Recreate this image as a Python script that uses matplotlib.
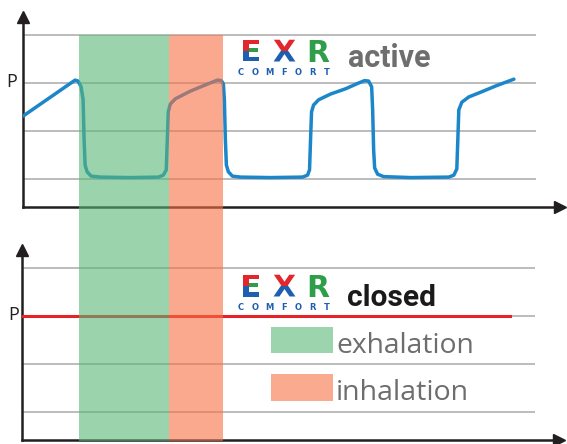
import matplotlib
matplotlib.use('Agg')
import matplotlib.pyplot as plt
from matplotlib.colors import to_rgb
from matplotlib.patches import Rectangle
from matplotlib.patheffects import AbstractPathEffect
from matplotlib.transforms import blended_transform_factory, Bbox, TransformedBbox

# pressure curve with active valve (t in s, p in grid units)
wave_t = [0, 1.30, 1.375, 1.45, 1.5, 1.525, 1.55, 1.6, 1.7, 1.93, 2.68, 3.38, 3.5, 3.575,
          3.6, 3.625, 3.675, 3.8, 4.175, 4.55, 4.85, 4.95, 5.0, 5.025, 5.05, 5.075, 5.125,
          5.225, 5.425, 6.175, 6.975, 7.1, 7.15, 7.175, 7.2, 7.25, 7.375, 7.675, 8.05,
          8.375, 8.525, 8.625, 8.7, 8.725, 8.75, 8.775, 8.85, 9.0, 9.675, 10.625, 10.75,
          10.825, 10.85, 10.875, 10.95, 11.125, 11.425, 11.8, 12.25]
wave_p = [2.31, 3.06, 3.04, 2.92, 2.65, 1.81, 1.29, 1.15, 1.06, 1.04, 1.03, 1.04, 1.08, 1.19,
          1.81, 2.40, 2.56, 2.67, 2.83, 2.96, 3.06, 3.05, 2.98, 2.65, 1.81, 1.29, 1.15,
          1.06, 1.04, 1.03, 1.04, 1.08, 1.19, 1.81, 2.40, 2.54, 2.65, 2.77, 2.88,
          3.0, 3.05, 3.04, 2.92, 2.44, 1.60, 1.23, 1.10, 1.05, 1.03, 1.04, 1.08,
          1.21, 1.81, 2.44, 2.60, 2.71, 2.81, 2.94, 3.08]
# closed valve: constant pressure
closed_t = [0, 12.18]
closed_p = [3, 3]
grid_p = [1, 2, 3, 4]
grid_end = 12.8
exhale = (1.4, 3.65)
inhale = (3.65, 5.0)
t_max = 13.4
p_min, p_max = 0.417, 4.375
panel_labels = ['active', 'closed']
band_labels = ['exhalation', 'inhalation']

W, H = 567, 444
dark = '#231f20'
red, green, blue = '#e3262b', '#2e9e4a', '#1e5fb0'

fig = plt.figure(figsize=(W / 100, H / 100), dpi=100)

def box(l, t, r, b):
    return [l / W, 1 - b / H, (r - l) / W, (b - t) / H]

ax1 = fig.add_axes(box(23, 17, 560, 207))
ax2 = fig.add_axes(box(22, 250, 559, 440))
for ax in (ax1, ax2):
    ax.set_xlim(0, t_max)
    ax.set_ylim(p_min, p_max)
    ax.set_xticks([]); ax.set_yticks([])
    ax.patch.set_alpha(0)
    for s in ('top', 'right'):
        ax.spines[s].set_visible(False)
    for s in ('left', 'bottom'):
        ax.spines[s].set_linewidth(1.8)
        ax.spines[s].set_color(dark)
    ax.plot(1, 0, '>', color=dark, ms=9, transform=ax.transAxes, clip_on=False)
    ax.plot(0, 1, '^', color=dark, ms=9, transform=ax.transAxes, clip_on=False)
    ax.hlines(grid_p, 0, grid_end, color='#a9a9a9', lw=1.1, zorder=1)

ax1.plot(wave_t, wave_p, color='#1b86c9', lw=2.5, solid_joinstyle='round',
         solid_capstyle='round', zorder=3)
ax2.plot(closed_t, closed_p, color='#e52228', lw=2.2, zorder=3)

# overlay in pixel coords for bands, labels, logo
ov = fig.add_axes([0, 0, 1, 1], zorder=5)
ov.set_xlim(0, W); ov.set_ylim(H, 0)
ov.axis('off')

trans = blended_transform_factory(ax1.transData, ov.transData)
for (a, b), c in zip([exhale, inhale], ['#58b776', '#f77144']):
    ov.add_patch(Rectangle((a, 35), b - a, 406, transform=trans, facecolor=c,
                           alpha=0.6, lw=0))

ov.text(11.5, 82, 'P', family='Open Sans', fontsize=13, color=dark, ha='center', va='center')
ov.text(13.5, 315, 'P', family='Open Sans', fontsize=13, color=dark, ha='center', va='center')

ov.text(348, 67, panel_labels[0], family='Roboto', weight='bold',
        fontsize=22, color='#6e6e6e', va='baseline')
ov.text(347, 306, panel_labels[1], family='Roboto', weight='bold',
        fontsize=21.5, color='#1a1a1a', va='baseline')

# legend
ov.add_patch(Rectangle((271, 327), 62, 26, facecolor='#9bd4ad', lw=0))
ov.add_patch(Rectangle((271, 374), 62, 27, facecolor='#faaa8f', lw=0))
ov.text(336, 353, band_labels[0], family='Open Sans', fontsize=20.3, color='#6d6d6d', va='baseline')
ov.text(336, 400, band_labels[1], family='Open Sans', fontsize=20.5, color='#6d6d6d', va='baseline')


class Pieces(AbstractPathEffect):
    # paints the glyph in several colours, each clipped to a pixel box
    def __init__(self, pieces):
        super().__init__()
        self.pieces = pieces

    def draw_path(self, renderer, gc, tpath, affine, rgbFace=None):
        for col, x0, x1, y0, y1 in self.pieces:
            g = renderer.new_gc()
            g.copy_properties(gc)
            g.set_linewidth(0)
            g.set_clip_rectangle(TransformedBbox(Bbox([[x0, y0], [x1, y1]]), ov.transData))
            renderer.draw_path(g, tpath, affine, to_rgb(col))
            g.restore()


def logo(y0):
    base = y0 + 21.5
    mid = y0 + 11
    kw = dict(family='DejaVu Sans', weight='bold', fontsize=21.5, ha='center', va='baseline')
    e_fx = Pieces([(red, 0, W, y0 - 5, mid), (blue, 0, W, mid, y0 + 30),
                   (green, 249, W, y0 + 7, y0 + 15)])
    x_fx = Pieces([(red, 0, W, y0 - 5, mid), (blue, 0, W, mid, y0 + 30)])
    ov.text(251, base, 'E', color=blue, path_effects=[e_fx], **kw)
    ov.text(284.5, base, 'X', color=blue, path_effects=[x_fx], **kw)
    ov.text(318, base, 'R', color=green, **kw)
    for i, ch in enumerate('COMFORT'):
        ov.text(241 + i * 14.3, y0 + 35, ch, family='DejaVu Sans', weight='bold',
                fontsize=6, color=blue, ha='center', va='baseline')

logo(40)
logo(275)

fig.savefig('out.png', dpi=100)
